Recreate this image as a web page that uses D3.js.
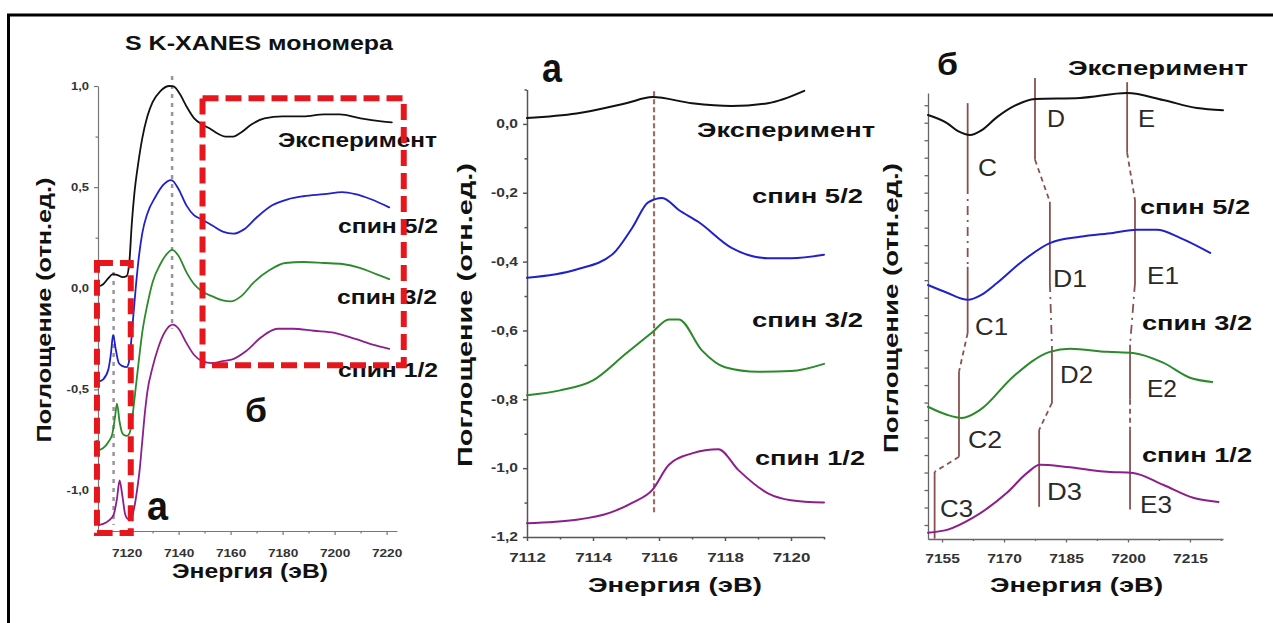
<!DOCTYPE html>
<html>
<head>
<meta charset="utf-8">
<script src="https://cdn.jsdelivr.net/npm/d3@7"></script>
<style>
  html, body { margin: 0; padding: 0; background: #fff; }
  svg { display: block; }
  text { font-family: "Liberation Sans", Arial, Helvetica, sans-serif; }
</style>
</head>
<body>
<svg id="chart" width="1273" height="623"></svg>
<script>
// ---------------- data ----------------
// Overview S K-XANES spectra: [energy (eV), absorption]
const fullExp = [[7109.5,0.01],[7111,0.02],[7113,0.05],[7114.7,0.07],[7116.5,0.065],[7118.5,0.055],[7120,0.06],[7121,0.12],[7122,0.32],[7123,0.47],[7124.5,0.62],[7126,0.74],[7128,0.85],[7130,0.92],[7133,0.975],[7136.5,1.0],[7138,0.998],[7140.5,0.96],[7143,0.9],[7146,0.84],[7149,0.81],[7152,0.79],[7155,0.765],[7158,0.75],[7161,0.75],[7164,0.77],[7168,0.81],[7173,0.84],[7180,0.85],[7188,0.85],[7196,0.86],[7202,0.86],[7210,0.84],[7218,0.825],[7222,0.82]];
const fullS52 = [[7109.5,-0.46],[7111,-0.45],[7113,-0.40],[7114,-0.32],[7114.8,-0.23],[7115.8,-0.30],[7117,-0.37],[7118.5,-0.385],[7120,-0.39],[7120.8,-0.37],[7121.5,-0.3],[7122.5,-0.15],[7123.5,0.0],[7124.5,0.13],[7126,0.27],[7128,0.37],[7131,0.45],[7134,0.51],[7137.2,0.535],[7140,0.49],[7143,0.41],[7146,0.36],[7149,0.34],[7153,0.31],[7157,0.28],[7161,0.27],[7165,0.29],[7170,0.35],[7176,0.41],[7182,0.44],[7188,0.455],[7196,0.465],[7203,0.475],[7208,0.465],[7214,0.44],[7221,0.40]];
const fullS32 = [[7109.5,-0.80],[7111,-0.79],[7113,-0.76],[7114.5,-0.72],[7115.5,-0.64],[7116.3,-0.57],[7117.3,-0.66],[7118.5,-0.72],[7120,-0.73],[7121,-0.72],[7122,-0.66],[7123,-0.55],[7124.5,-0.38],[7126,-0.22],[7128,-0.08],[7130,0.03],[7133,0.12],[7135.5,0.17],[7137.5,0.19],[7140,0.16],[7143,0.08],[7146,0.02],[7149,-0.015],[7153,-0.04],[7157,-0.06],[7160,-0.065],[7164,-0.04],[7169,0.03],[7175,0.09],[7181,0.125],[7188,0.13],[7196,0.125],[7203,0.12],[7210,0.1],[7216,0.07],[7221,0.045]];
const fullS12 = [[7109.5,-1.17],[7111,-1.165],[7113,-1.15],[7115,-1.12],[7116.3,-1.04],[7117.3,-0.95],[7118.3,-1.02],[7119.5,-1.12],[7120.5,-1.14],[7122,-1.13],[7123,-1.08],[7124,-1.0],[7125,-0.9],[7126,-0.76],[7127,-0.62],[7128,-0.51],[7130,-0.39],[7132,-0.3],[7135,-0.21],[7137.8,-0.18],[7140,-0.2],[7143,-0.27],[7146,-0.33],[7149,-0.36],[7153,-0.37],[7157,-0.36],[7161,-0.35],[7166,-0.31],[7172,-0.24],[7178,-0.2],[7184,-0.2],[7192,-0.21],[7200,-0.22],[7208,-0.25],[7215,-0.28],[7221,-0.3]];

// Pre-edge region (a)
const preExp = [[7112,0.017],[7113.5,0.03],[7115,0.06],[7115.8,0.078],[7117,0.06],[7118.2,0.052],[7119.3,0.06],[7120.4,0.096]];
const preS52 = [[7112,-0.447],[7113.5,-0.423],[7114.6,-0.378],[7115.2,-0.30],[7115.67,-0.228],[7116.1,-0.215],[7116.6,-0.25],[7117.2,-0.285],[7118.2,-0.36],[7119.3,-0.39],[7120,-0.39],[7121,-0.38]];
const preS32 = [[7112,-0.788],[7113,-0.774],[7114,-0.745],[7115,-0.667],[7115.8,-0.605],[7116.3,-0.568],[7116.6,-0.568],[7117.3,-0.658],[7118,-0.707],[7119,-0.72],[7120,-0.718],[7121,-0.697]];
const preS12 = [[7112,-1.16],[7113.5,-1.15],[7114.5,-1.13],[7115.2,-1.10],[7115.8,-1.063],[7116.3,-0.99],[7117,-0.957],[7117.8,-0.945],[7118.4,-1.005],[7119.3,-1.073],[7120,-1.093],[7121,-1.10]];

// Post-edge region (б)
const postExp = [[7151.6,0.822],[7156.2,0.799],[7159,0.775],[7161.8,0.765],[7164.5,0.778],[7168.3,0.816],[7172.5,0.848],[7177.5,0.868],[7188.4,0.871],[7199.8,0.885],[7208.5,0.865],[7216.7,0.842],[7223,0.836]];
const postS52 = [[7151.6,0.336],[7156.2,0.314],[7161.3,0.294],[7164.5,0.308],[7168.3,0.342],[7173.9,0.399],[7181.1,0.456],[7188.4,0.474],[7196.4,0.485],[7202.2,0.494],[7207,0.494],[7212.6,0.471],[7219.9,0.428]];
const postS32 = [[7151.6,-0.012],[7156.2,-0.035],[7159.8,-0.044],[7164.2,-0.021],[7172.2,0.074],[7181.1,0.145],[7186,0.154],[7195,0.145],[7201.2,0.142],[7208.5,0.114],[7215,0.071],[7220.4,0.059]];
const postS12 = [[7151.6,-0.372],[7156.2,-0.364],[7162.5,-0.329],[7170.7,-0.258],[7175.6,-0.201],[7178.7,-0.178],[7185.2,-0.184],[7195,-0.198],[7201.2,-0.201],[7208.5,-0.235],[7215.8,-0.272],[7221.9,-0.284]];

const seriesNames = ["Эксперимент", "спин 5/2", "спин 3/2", "спин 1/2"];

// Feature tracking guides in region б: [E0, v0, E1, v1]
const guideSolid = [
  [7161.2,0.856,7161.2,0.622],[7161.2,0.388,7161.2,0.199],[7159.1,0.088,7159.1,-0.155],[7153.2,-0.198,7153.2,-0.389],
  [7177.5,0.928,7177.5,0.694],[7181.1,0.574,7181.1,0.342],[7181.6,0.159,7181.6,-0.001],[7178.5,-0.078,7178.5,-0.298],
  [7199.8,0.916,7199.8,0.714],[7201.7,0.579,7201.7,0.342],[7200.5,0.165,7200.5,0.008],[7200.5,-0.078,7200.5,-0.306]
];
const guideDashDot = [
  [7161.2,0.622,7161.2,0.388],[7181.1,0.342,7181.6,0.159],[7201.7,0.342,7200.5,0.165]
];
const guideDashed = [
  [7161.2,0.199,7159.1,0.088],[7159.1,-0.155,7153.2,-0.198],
  [7177.5,0.694,7181.1,0.574],[7181.6,-0.001,7178.5,-0.078],
  [7199.8,0.714,7201.7,0.579],[7200.5,0.008,7200.5,-0.078]
];
const featureNames = ["C","D","E","C1","D1","E1","C2","D2","E2","C3","D3","E3"];

// Zoomed regions marked on the overview: [E0, E1, vTop, vBottom]
const regionA = [7108.6, 7121.6, 0.125, -1.21];
const regionB = [7149.2, 7226.6, 0.94, -0.38];

// Peak position markers: [E, vTop, vBottom]
const overviewMarkers = [[7137.5, 1.05, -0.2], [7115, 0.08, -1.17]];
const preEdgeMarker = [7115.85, 0.095, -1.13];

// Tick values
const p1xMajor = [7120, 7140, 7160, 7180, 7200, 7220];
const p1xMinor = [7110, 7130, 7150, 7170, 7190, 7210];
const p1yMajor = [-1.0, -0.5, 0.0, 0.5, 1.0];
const p1yMinor = [-0.75, -0.25, 0.25, 0.75];
const p2xMajor = [7112, 7114, 7116, 7118, 7120];
const p2xMinor = [7113, 7115, 7117, 7119, 7121];
const p2yMajor = [-1.2, -1.0, -0.8, -0.6, -0.4, -0.2, 0.0];
const p2yMinor = [-1.1, -0.9, -0.7, -0.5, -0.3, -0.1, 0.1];
const p3xMajor = [7155, 7170, 7185, 7200, 7215];
const p3xMinor = [7162.5, 7177.5, 7192.5, 7207.5, 7222.5];
const p3yTicks = d3.range(-35, 90, 5).map(k => k / 100);

// ---------------- drawing ----------------
const colors = ["#111111", "#2020cc", "#2b8a2b", "#8c1f8c"];
const red = "#e6161c";
const svg = d3.select("#chart");

// frame
svg.append("rect").attr("x", 8.5).attr("y", 15).attr("width", 1300).attr("height", 700)
  .attr("fill", "none").attr("stroke", "#000").attr("stroke-width", 3);

const fmtComma = d => d3.format(".1f")(d).replace("−", "-").replace(".", ",");

function stretch(sel, f) {
  sel.each(function () {
    const w = this.getComputedTextLength();
    this.setAttribute("textLength", w * f);
    this.setAttribute("lengthAdjust", "spacingAndGlyphs");
  });
}

function txt(g, s, o) {
  const t = g.append("text").text(s)
    .attr("font-size", o.size)
    .attr("font-weight", o.weight || "bold")
    .attr("fill", o.fill || "#111");
  if (o.rotate) {
    t.attr("transform", `translate(${o.x},${o.y}) rotate(-90)`)
      .attr("x", -o.width / 2).attr("y", 0);
  } else {
    let x0 = o.x;
    if (o.anchor === "end") x0 = o.x - o.width;
    else if (o.anchor === "middle") x0 = o.x - o.width / 2;
    t.attr("x", x0).attr("y", o.y);
  }
  if (o.width) t.attr("textLength", o.width).attr("lengthAdjust", "spacingAndGlyphs");
  return t;
}

function styleAxis(g, color, width) {
  g.selectAll("path, line").attr("stroke", color).attr("stroke-width", width);
}

function drawAxes(g, x, y, cfg) {
  const [y0] = y.range();
  const [x0] = x.range();
  // x axis
  const xa = g.append("g").attr("transform", `translate(0,${y0})`)
    .call(d3.axisBottom(x).tickValues(cfg.xMajor).tickSizeInner(cfg.tick).tickSizeOuter(0).tickFormat(d3.format("d")));
  xa.selectAll("text").attr("y", cfg.xLabelOff).attr("dy", null)
    .attr("font-size", cfg.xFont).attr("font-weight", "bold").attr("fill", "#333")
    .attr("font-family", null);
  stretch(xa.selectAll("text"), 1.3);
  styleAxis(xa, cfg.axisColor, cfg.axisWidth);
  const xm = g.append("g").attr("transform", `translate(0,${y0})`)
    .call(d3.axisBottom(x).tickValues(cfg.xMinor).tickSizeInner(cfg.tick - 1.5).tickSizeOuter(0).tickFormat(""));
  xm.select(".domain").remove();
  styleAxis(xm, cfg.axisColor, cfg.axisWidth);
  // y axis
  const ya = g.append("g").attr("transform", `translate(${x0},0)`)
    .call(d3.axisLeft(y).tickValues(cfg.yMajor).tickSizeInner(cfg.tick).tickSizeOuter(0)
      .tickFormat(cfg.yLabels ? fmtComma : ""));
  ya.selectAll("text").attr("x", -cfg.yLabelOff)
    .attr("font-size", cfg.yFont).attr("font-weight", "bold").attr("fill", "#333")
    .attr("font-family", null);
  if (cfg.yLabels) stretch(ya.selectAll("text"), 1.3);
  styleAxis(ya, cfg.axisColor, cfg.axisWidth);
  if (cfg.yMinor) {
    const ym = g.append("g").attr("transform", `translate(${x0},0)`)
      .call(d3.axisLeft(y).tickValues(cfg.yMinor).tickSizeInner(cfg.tick - 1.5).tickSizeOuter(0).tickFormat(""));
    ym.select(".domain").remove();
    styleAxis(ym, cfg.axisColor, cfg.axisWidth);
  }
  g.selectAll(".domain").attr("fill", "none");
}

function drawCurves(g, x, y, sets, width) {
  const line = d3.line().x(d => x(d[0])).y(d => y(d[1])).curve(d3.curveMonotoneX);
  sets.forEach((s, i) => {
    g.append("path").datum(s).attr("d", line)
      .attr("fill", "none").attr("stroke", colors[i]).attr("stroke-width", width)
      .attr("stroke-linejoin", "round").attr("stroke-linecap", "round");
  });
}

// ===== Panel 1: overview =====
const x1 = d3.scaleLinear().domain([7109, 7224]).range([98, 397]);
const y1 = d3.scaleLinear().domain([-1.2, 1.0]).range([531, 86]);
const g1 = svg.append("g");
drawAxes(g1, x1, y1, {
  xMajor: p1xMajor, xMinor: p1xMinor, yMajor: p1yMajor, yMinor: p1yMinor,
  tick: 4, xLabelOff: 26, yLabelOff: 9, xFont: 10.5, yFont: 10, yLabels: true,
  axisColor: "#777", axisWidth: 1.2
});
overviewMarkers.forEach(m => {
  g1.append("line").attr("x1", x1(m[0])).attr("x2", x1(m[0]))
    .attr("y1", y1(m[1])).attr("y2", y1(m[2]))
    .attr("stroke", "#9d9499").attr("stroke-width", 2.5).attr("stroke-dasharray", "4,5");
});
drawCurves(g1, x1, y1, [fullExp, fullS52, fullS32, fullS12], 1.8);

txt(g1, "S K-XANES мономера", { x: 125, y: 50, size: 20, width: 268 });
txt(g1, seriesNames[0], { x: 278, y: 147, size: 20, width: 159 });
txt(g1, seriesNames[1], { x: 338, y: 233, size: 20, width: 100 });
txt(g1, seriesNames[2], { x: 337, y: 304, size: 20, width: 100 });
txt(g1, seriesNames[3], { x: 338, y: 377, size: 20, width: 100 });
txt(g1, "б", { x: 245, y: 422, size: 34, width: 22 });
txt(g1, "а", { x: 147, y: 520, size: 40, width: 21 });
txt(g1, "Поглощение (отн.ед.)", { x: 51, y: 310, size: 21, width: 265, rotate: true });
txt(g1, "Энергия (эВ)", { x: 172, y: 578, size: 21, width: 156 });

// zoom region frames
[regionA, regionB].forEach(r => {
  g1.append("rect")
    .attr("x", x1(r[0])).attr("y", y1(r[2]))
    .attr("width", x1(r[1]) - x1(r[0])).attr("height", y1(r[3]) - y1(r[2]))
    .attr("fill", "none").attr("stroke", red).attr("stroke-width", 6)
    .attr("stroke-dasharray", "16,7");
});

// ===== Panel 2: pre-edge (a) =====
const x2 = d3.scaleLinear().domain([7112, 7121]).range([527, 824]);
const y2 = d3.scaleLinear().domain([-1.2, 0.1]).range([537, 89.5]);
const g2 = svg.append("g");
drawAxes(g2, x2, y2, {
  xMajor: p2xMajor, xMinor: p2xMinor, yMajor: p2yMajor, yMinor: p2yMinor,
  tick: 4, xLabelOff: 25, yLabelOff: 9, xFont: 13, yFont: 12, yLabels: true,
  axisColor: "#555", axisWidth: 1.5
});
g2.append("line").attr("x1", x2(preEdgeMarker[0])).attr("x2", x2(preEdgeMarker[0]))
  .attr("y1", y2(preEdgeMarker[1])).attr("y2", y2(preEdgeMarker[2]))
  .attr("stroke", "#9a6e62").attr("stroke-width", 2.2).attr("stroke-dasharray", "5,3");
drawCurves(g2, x2, y2, [preExp, preS52, preS32, preS12], 2);

txt(g2, "а", { x: 542, y: 82, size: 40, width: 20 });
txt(g2, seriesNames[0], { x: 697, y: 137, size: 21, width: 178 });
txt(g2, seriesNames[1], { x: 752, y: 203, size: 21, width: 111 });
txt(g2, seriesNames[2], { x: 752, y: 327, size: 21, width: 111 });
txt(g2, seriesNames[3], { x: 755, y: 465, size: 21, width: 110 });
txt(g2, "Поглощение (отн.ед.)", { x: 472, y: 315, size: 21, width: 304, rotate: true });
txt(g2, "Энергия (эВ)", { x: 588, y: 592, size: 21, width: 174 });

// ===== Panel 3: post-edge (б) =====
const x3 = d3.scaleLinear().domain([7151.6, 7223]).range([928, 1223]);
const y3 = d3.scaleLinear().domain([-0.39, 0.885]).range([539, 93]);
const g3 = svg.append("g");
drawAxes(g3, x3, y3, {
  xMajor: p3xMajor, xMinor: p3xMinor, yMajor: p3yTicks, yMinor: null,
  tick: 3.5, xLabelOff: 24, yLabelOff: 8, xFont: 12, yFont: 10, yLabels: false,
  axisColor: "#666", axisWidth: 1.3
});

const guideColor = "#8a5050";
function drawGuides(list, dash) {
  g3.selectAll(null).data(list).enter().append("line")
    .attr("x1", d => x3(d[0])).attr("y1", d => y3(d[1]))
    .attr("x2", d => x3(d[2])).attr("y2", d => y3(d[3]))
    .attr("stroke", guideColor).attr("stroke-width", 1.8)
    .attr("stroke-dasharray", dash);
}
drawGuides(guideSolid, null);
drawGuides(guideDashDot, "9,5,2,5");
drawGuides(guideDashed, "5,4");

drawCurves(g3, x3, y3, [postExp, postS52, postS32, postS12], 2);

txt(g3, "б", { x: 937, y: 75, size: 32, width: 21 });
txt(g3, seriesNames[0], { x: 1068, y: 75, size: 21, width: 180 });
txt(g3, seriesNames[1], { x: 1140, y: 214, size: 21, width: 110 });
txt(g3, seriesNames[2], { x: 1142, y: 330, size: 21, width: 110 });
txt(g3, seriesNames[3], { x: 1142, y: 462, size: 21, width: 110 });
txt(g3, "Поглощение (отн.ед.)", { x: 898, y: 308, size: 21, width: 290, rotate: true });
txt(g3, "Энергия (эВ)", { x: 990, y: 592, size: 21, width: 173 });

// feature letters
const featurePos = [
  [978, 176, 19], [1047, 127, 18], [1138, 127, 17],
  [975, 335, 33], [1053, 287, 34], [1147, 284, 32],
  [968, 448, 34], [1060, 383, 33], [1147, 397, 30],
  [940, 517, 33], [1047, 500, 35], [1140, 513, 32]
];
featureNames.forEach((name, i) => {
  const p = featurePos[i];
  txt(g3, name, { x: p[0], y: p[1], size: 23, width: p[2], weight: "normal", fill: "#2a2a2a" });
});
</script>
</body>
</html>
